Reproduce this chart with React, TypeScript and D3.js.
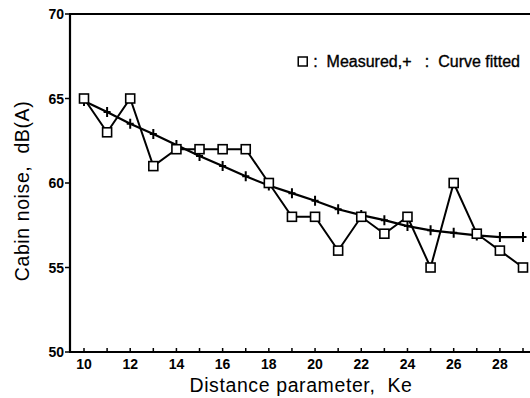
import { useEffect, useRef } from 'react';
import * as d3 from 'd3';

// distance parameter Ke
const distance = [10, 11, 12, 13, 14, 15, 16, 17, 18, 19, 20, 21, 22, 23, 24, 25, 26, 27, 28, 29];
// measured cabin noise, dB(A)
const measured = [65, 63, 65, 61, 62, 62, 62, 62, 60, 58, 58, 56, 58, 57, 58, 55, 60, 57, 56, 55];
// curve fitted values
const fitted = [64.85, 64.2, 63.5, 62.9, 62.25, 61.6, 61.0, 60.4, 59.85, 59.4, 58.95, 58.45, 58.1, 57.8, 57.45, 57.2, 57.05, 56.9, 56.8, 56.8];

const xTicks = [10, 12, 14, 16, 18, 20, 22, 24, 26, 28];
const yTicks = [50, 55, 60, 65, 70];

const W = 530;
const H = 398;

const App = () => {
  const svgRef = useRef<SVGSVGElement>(null);

  useEffect(() => {
    if (!svgRef.current) return;
    const svg = d3.select(svgRef.current);
    svg.selectAll('*').remove();

    const font = '"Liberation Sans", Arial, Helvetica, sans-serif';
    const x = d3.scaleLinear().domain([10, 29]).range([84, 523]);
    const y = d3.scaleLinear().domain([50, 70]).range([352, 14]);
    const left = 70;
    const right = W;

    // frame: left, bottom, top
    svg.append('line')
      .attr('x1', left).attr('x2', left).attr('y1', y(70)).attr('y2', y(50))
      .attr('stroke', '#000').attr('stroke-width', 2.2);
    svg.append('line')
      .attr('x1', left - 1).attr('x2', right).attr('y1', y(50)).attr('y2', y(50))
      .attr('stroke', '#000').attr('stroke-width', 2.2);
    svg.append('line')
      .attr('x1', left - 1).attr('x2', right).attr('y1', y(70)).attr('y2', y(70))
      .attr('stroke', '#000').attr('stroke-width', 2);

    // y ticks (outward)
    yTicks.forEach(t => {
      svg.append('line')
        .attr('x1', left - 5).attr('x2', left).attr('y1', y(t)).attr('y2', y(t))
        .attr('stroke', '#000').attr('stroke-width', 1.5);
      svg.append('text')
        .attr('x', left - 6).attr('y', y(t)).attr('dy', '0.36em')
        .attr('text-anchor', 'end')
        .attr('font-family', font).attr('font-weight', 'bold').attr('font-size', 14)
        .text(t);
    });

    // x ticks (inward, every unit)
    distance.forEach(t => {
      svg.append('line')
        .attr('x1', x(t)).attr('x2', x(t)).attr('y1', y(50)).attr('y2', y(50) - 4)
        .attr('stroke', '#000').attr('stroke-width', 1.5);
    });
    xTicks.forEach(t => {
      svg.append('text')
        .attr('x', x(t)).attr('y', y(50) + 17)
        .attr('text-anchor', 'middle')
        .attr('font-family', font).attr('font-weight', 'bold').attr('font-size', 14)
        .text(t);
    });

    // axis titles
    svg.append('text')
      .attr('x', 301).attr('y', 392)
      .attr('text-anchor', 'middle')
      .attr('font-family', font).attr('font-size', 19.5)
      .attr('letter-spacing', 0.6)
      .attr('xml:space', 'preserve')
      .text('Distance parameter,  Ke');
    svg.append('text')
      .attr('transform', 'translate(29,191) rotate(-90)')
      .attr('text-anchor', 'middle')
      .attr('font-family', font).attr('font-size', 19.5)
      .attr('letter-spacing', 0.6)
      .attr('xml:space', 'preserve')
      .text('Cabin noise,  dB(A)');

    const line = d3.line<number>()
      .x((_, i) => x(distance[i]))
      .y(d => y(d));

    // fitted curve with + markers
    svg.append('path')
      .datum(fitted)
      .attr('d', line)
      .attr('fill', 'none').attr('stroke', '#000').attr('stroke-width', 2.2);
    svg.selectAll('.fit-mark')
      .data(fitted)
      .enter()
      .append('path')
      .attr('class', 'fit-mark')
      .attr('d', (d, i) => {
        const cx = x(distance[i]);
        const cy = y(d);
        return `M${cx},${cy - 5}V${cy + 5}M${cx - 3.5},${cy}H${cx + 3.5}`;
      })
      .attr('stroke', '#000').attr('stroke-width', 2);

    // measured with square markers
    svg.append('path')
      .datum(measured)
      .attr('d', line)
      .attr('fill', 'none').attr('stroke', '#000').attr('stroke-width', 2);
    svg.selectAll('.meas-mark')
      .data(measured)
      .enter()
      .append('rect')
      .attr('class', 'meas-mark')
      .attr('x', (_, i) => x(distance[i]) - 4.5)
      .attr('y', d => y(d) - 4.5)
      .attr('width', 9).attr('height', 9)
      .attr('fill', '#fff').attr('stroke', '#000').attr('stroke-width', 1.6);

    // legend
    const lg = svg.append('text')
      .attr('x', 520).attr('y', 67)
      .attr('text-anchor', 'end')
      .attr('font-family', font).attr('font-size', 16)
      .attr('stroke', '#000').attr('stroke-width', 0.35)
      .attr('xml:space', 'preserve')
      .text(':  Measured,+   :  Curve fitted');
    const bb = (lg.node() as SVGTextElement).getBBox();
    svg.append('rect')
      .attr('x', bb.x - 15).attr('y', 57)
      .attr('width', 9).attr('height', 9)
      .attr('fill', '#fff').attr('stroke', '#000').attr('stroke-width', 1.5);
  }, []);

  return (
    <svg ref={svgRef} width={W} height={H}
      style={{ position: 'absolute', left: 0, top: 0, background: '#fff' }} />
  );
};

export default App;
